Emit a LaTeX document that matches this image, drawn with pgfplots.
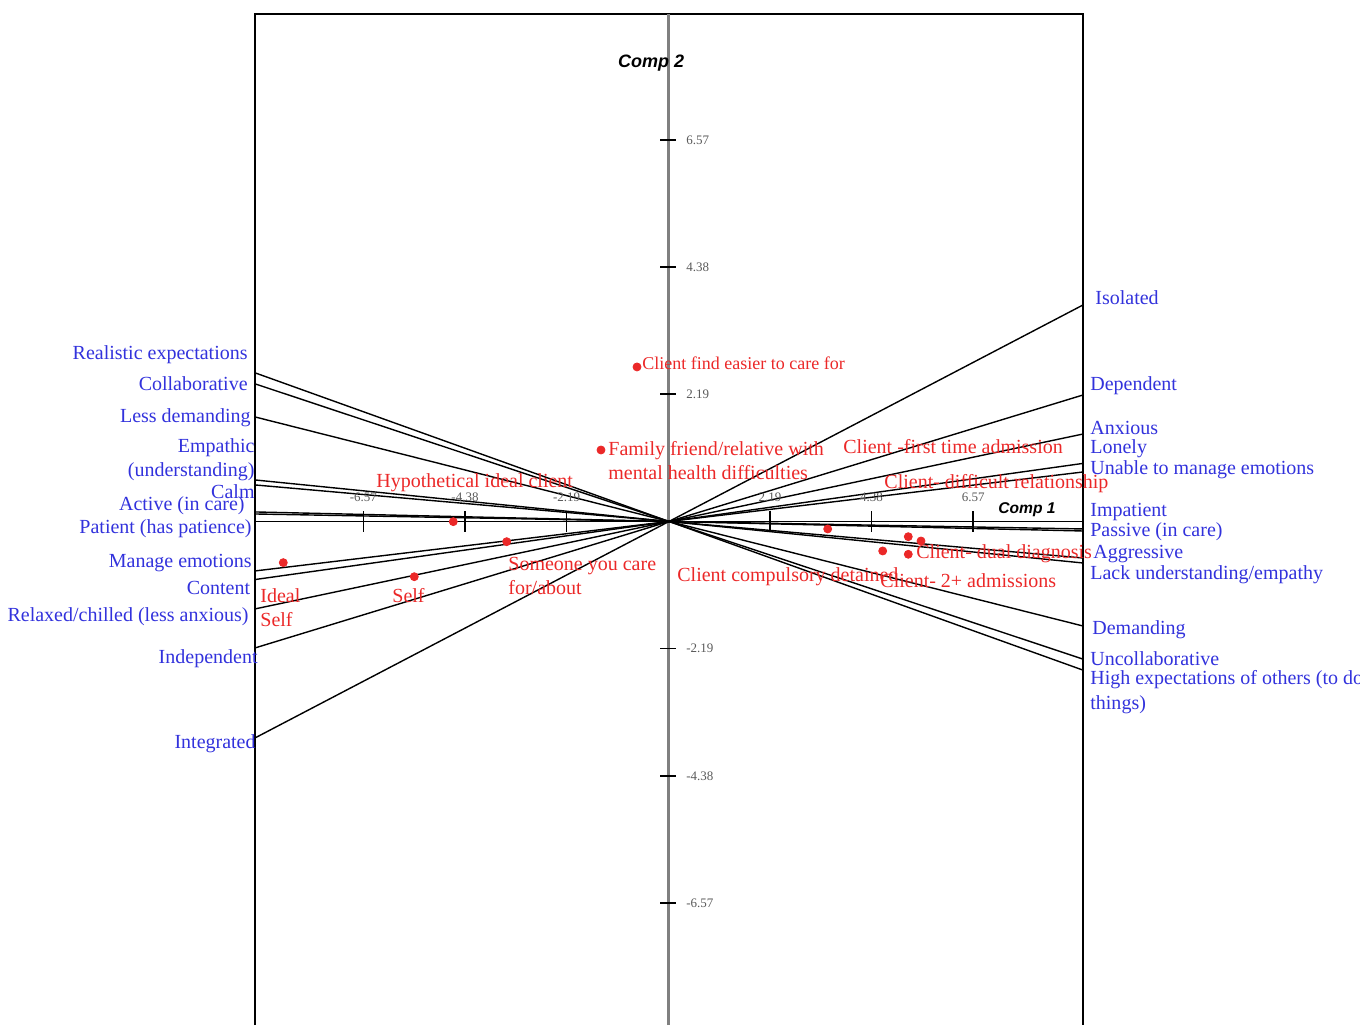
\documentclass[border=0pt]{standalone}
\usepackage{pgfplots}
\pgfplotsset{compat=1.18}
\usepackage{fontspec}
\setmainfont{Liberation Serif}
\newfontfamily\arialf{Liberation Sans}
\definecolor{blueL}{RGB}{50,50,220}
\definecolor{redL}{RGB}{235,40,40}
\definecolor{tickgray}{RGB}{90,90,90}
\tikzset{
  bl/.style={font=\fontsize{10}{12}\selectfont, text=blueL, inner sep=0pt},
  rl/.style={font=\fontsize{10}{12}\selectfont, text=redL, inner sep=0pt},
  tl/.style={font=\fontsize{6.5}{7}\selectfont, text=tickgray, inner sep=0pt},
}
\pgfplotsset{cl/.style={black, line width=0.7pt, forget plot}}
\begin{document}
\begin{tikzpicture}
\begin{axis}[
  scale only axis, width=414pt, height=505.5pt,
  xmin=-8.904, xmax=8.934, ymin=-8.671, ymax=8.739,
  hide axis, clip=false,
]
% frame (left, top, right)
\draw[line width=1pt] (rel axis cs:0,0) -- (rel axis cs:0,1) -- (rel axis cs:1,1) -- (rel axis cs:1,0);
% Comp 2 axis
\draw[gray, line width=1.2pt] (axis cs:0,-8.671) -- (axis cs:0,8.739);
% Comp 1 axis
\draw[black, line width=0.6pt] (axis cs:-8.904,0) -- (axis cs:8.934,0);
% construct lines
\addplot[cl] coordinates {(-8.904,-3.728) (8.934,3.728)};
\addplot[cl] coordinates {(-8.904,-2.178) (8.934,2.178)};
\addplot[cl] coordinates {(-8.904,-1.506) (8.934,1.506)};
\addplot[cl] coordinates {(-8.904,-1.000) (8.934,1.000)};
\addplot[cl] coordinates {(-8.904,-0.852) (8.934,0.852)};
\addplot[cl] coordinates {(-8.904,0.129) (8.934,-0.129)};
\addplot[cl] coordinates {(-8.904,0.164) (8.934,-0.164)};
\addplot[cl] coordinates {(-8.904,0.629) (8.934,-0.629)};
\addplot[cl] coordinates {(-8.904,0.715) (8.934,-0.715)};
\addplot[cl] coordinates {(-8.904,1.800) (8.934,-1.800)};
\addplot[cl] coordinates {(-8.904,2.370) (8.934,-2.370)};
\addplot[cl] coordinates {(-8.904,2.560) (8.934,-2.560)};
% ticks
\pgfplotsinvokeforeach{-6.57,-4.38,-2.19,2.19,4.38,6.57}{
  \draw[black, line width=0.8pt] (axis cs:#1,-0.18) -- (axis cs:#1,0.18);
  \draw[black, line width=0.8pt] (axis cs:-0.17,#1) -- (axis cs:0.17,#1);
}
\node[tl] at (axis cs:-6.57,0.422) {-6.57};
\node[tl] at (axis cs:-4.38,0.422) {-4.38};
\node[tl] at (axis cs:-2.19,0.422) {-2.19};
\node[tl] at (axis cs:2.19,0.422) {2.19};
\node[tl] at (axis cs:4.38,0.422) {4.38};
\node[tl] at (axis cs:6.57,0.422) {6.57};
\node[tl, anchor=west] at (axis cs:0.381,6.57) {6.57};
\node[tl, anchor=west] at (axis cs:0.381,4.38) {4.38};
\node[tl, anchor=west] at (axis cs:0.381,2.19) {2.19};
\node[tl, anchor=west] at (axis cs:0.381,-2.19) {-2.19};
\node[tl, anchor=west] at (axis cs:0.381,-4.38) {-4.38};
\node[tl, anchor=west] at (axis cs:0.381,-6.57) {-6.57};
% axis titles
\node[font=\arialf\bfseries\itshape\fontsize{9}{10}\selectfont, inner sep=0pt] at (axis cs:-0.372,7.895) {Comp 2};
\node[font=\arialf\bfseries\itshape\fontsize{7.8}{9}\selectfont, inner sep=0pt] at (axis cs:7.727,0.198) {Comp 1};
% element points
\addplot[only marks, mark=*, mark size=2pt, color=redL, forget plot] coordinates {
(-0.674,2.661) (-1.450,1.231) (-4.632,-0.003) (-3.481,-0.348) (-5.472,-0.951)
(-8.294,-0.709) (3.434,-0.129) (5.170,-0.262) (5.444,-0.336) (4.619,-0.508) (5.170,-0.565)};
% element labels
\node[rl, anchor=west, font=\fontsize{9}{12}\selectfont] at (axis cs:-0.567,2.729) {Client find easier to care for};
\node[rl, anchor=west, align=left] at (axis cs:-1.299,1.042) {Family friend/relative with\\mental health difficulties};
\node[rl, anchor=west] at (axis cs:-6.297,0.663) {Hypothetical ideal client};
\node[rl, anchor=west, align=left] at (axis cs:-3.453,-0.939) {Someone you care\\for/about};
\node[rl, anchor=west] at (axis cs:-5.952,-1.283) {Self};
\node[rl, anchor=west] at (axis cs:-8.796,-1.283) {Ideal};
\node[rl, anchor=west] at (axis cs:-8.796,-1.696) {Self};
\node[rl, anchor=west] at (axis cs:0.187,-0.956) {Client compulsory detained};
\node[rl, anchor=west] at (axis cs:3.763,1.283) {Client -first time admission};
\node[rl, anchor=west] at (axis cs:4.647,0.646) {Client- difficult relationship};
\node[rl, anchor=west] at (axis cs:5.336,-0.560) {Client- dual diagnosis};
\node[rl, anchor=west] at (axis cs:4.561,-1.025) {Client- 2+ admissions};
% left construct poles
\node[bl, anchor=east] at (axis cs:-9.054,2.867) {Realistic expectations};
\node[bl, anchor=east] at (axis cs:-9.054,2.368) {Collaborative};
\node[bl, anchor=east] at (axis cs:-8.990,1.782) {Less demanding};
\node[bl, anchor=east, align=right] at (axis cs:-8.904,1.059) {Empathic\\(understanding)};
\node[bl, anchor=east] at (axis cs:-8.904,0.508) {Calm};
\node[bl, anchor=east] at (axis cs:-9.119,0.267) {Active (in care)};
\node[bl, anchor=east] at (axis cs:-8.968,-0.129) {Patient (has patience)};
\node[bl, anchor=east] at (axis cs:-8.968,-0.715) {Manage emotions};
\node[bl, anchor=east] at (axis cs:-9.000,-1.145) {Content};
\node[bl, anchor=east] at (axis cs:-9.033,-1.645) {Relaxed/chilled (less anxious)};
\node[bl, anchor=east] at (axis cs:-8.839,-2.368) {Independent};
\node[bl, anchor=east] at (axis cs:-8.882,-3.832) {Integrated};
% right construct poles
\node[bl, anchor=west] at (axis cs:9.192,3.849) {Isolated};
\node[bl, anchor=west] at (axis cs:9.084,2.333) {Dependent};
\node[bl, anchor=west] at (axis cs:9.084,1.610) {Anxious};
\node[bl, anchor=west] at (axis cs:9.084,1.248) {Lonely};
\node[bl, anchor=west] at (axis cs:9.084,0.887) {Unable to manage emotions};
\node[bl, anchor=west] at (axis cs:9.084,0.164) {Impatient};
\node[bl, anchor=west] at (axis cs:9.084,-0.181) {Passive (in care)};
\node[bl, anchor=west] at (axis cs:9.149,-0.560) {Aggressive};
\node[bl, anchor=west] at (axis cs:9.084,-0.921) {Lack understanding/empathy};
\node[bl, anchor=west] at (axis cs:9.127,-1.868) {Demanding};
\node[bl, anchor=west] at (axis cs:9.084,-2.368) {Uncollaborative};
\node[bl, anchor=west, align=left, font=\fontsize{10}{12.5}\selectfont] at (axis cs:9.084,-2.945) {High expectations of others (to do\\things)};
% bounding box corners
\coordinate (BL) at (axis cs:-14.397,-8.671);
\coordinate (TR) at (axis cs:14.901,8.980);
\end{axis}
\pgfresetboundingbox
\path[use as bounding box] (BL) rectangle (TR);
\end{tikzpicture}
\end{document}
